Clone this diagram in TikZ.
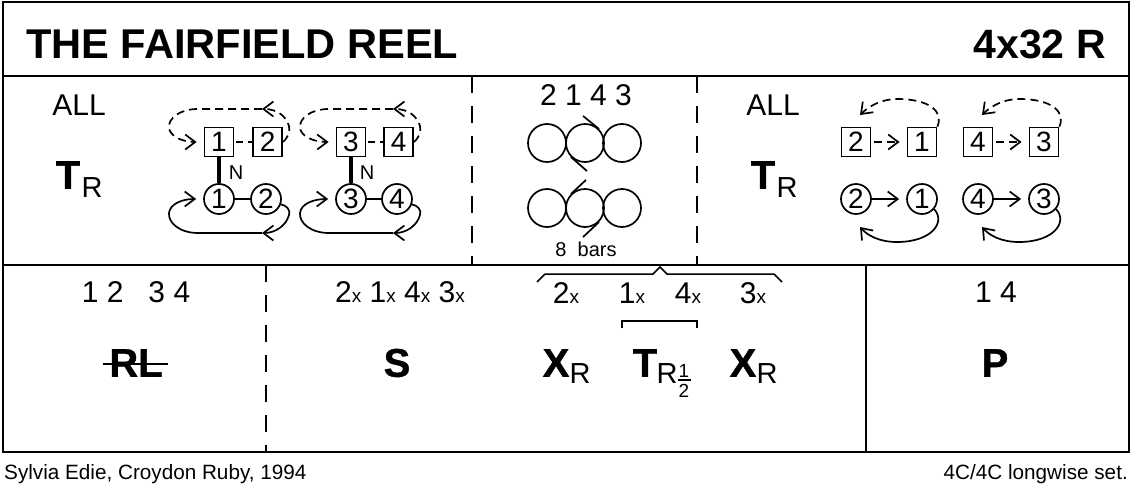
\documentclass[tikz,border=0pt]{standalone}
\usepackage{fontspec}
\usepackage{tikz}
\usetikzlibrary{arrows.meta,positioning}
\setmainfont{Liberation Sans}
\newfontfamily\heavy[FakeBold=1]{Liberation Sans Bold}
\newcommand{\fs}[1]{\fontsize{#1}{#1}\selectfont}
\newcommand{\crossnum}[1]{#1{\fs{19}x}}
\newcommand{\halfbar}{\vbox{\hbox to 13pt{\hss 1\hss}\kern2pt\hrule height 1.2pt\kern4pt\hbox to 13pt{\hss 2\hss}}}
\tikzset{
	sq/.style={draw,line width=1.7pt,minimum size=29pt,inner sep=0pt,font=\fs{28}},
	rnd/.style={draw,circle,line width=1.7pt,minimum size=30pt,inner sep=0pt,font=\fs{28}},
	ring/.style={draw,circle,line width=1.7pt,minimum size=38pt,inner sep=0pt},
	lab/.style={inner sep=0pt,font=\fs{30}},
	big/.style={inner sep=0pt,font=\fs{40}\heavy},
	sub/.style={inner sep=0pt,font=\fs{29}},
	foot/.style={inner sep=0pt,font=\fs{20.7}},
	flow/.style={line width=1.7pt,-{Straight Barb[length=10pt,width=15pt,line width=1.7pt]}},
	dflow/.style={flow,dash pattern=on 8pt off 5pt},
	divider/.style={line width=2pt,dash pattern=on 17pt off 13pt},
	rule/.style={line width=2pt},
	tick/.style={line width=1.7pt},
}
\begin{document}
\begin{tikzpicture}[x=1pt,y=-1pt]
	\useasboundingbox (0,0) rectangle (1133,490);
	\fill[white] (0,0) rectangle (1133,490);
	\coordinate (f1) at (3,2);
	\coordinate (f2) at (1129,452);
	\draw[rule] (f1) rectangle (f2);
	\draw[rule] (3,76) -- (1129,76);
	\draw[rule] (3,265) -- (1129,265);
	\draw[divider] (472,76) -- (472,265);
	\draw[divider] (697,76) -- (697,265);
	\draw[divider] (266,265) -- (266,452);
	\draw[rule] (866,265) -- (866,452);

	\node[inner sep=0pt,anchor=west,font=\fs{41.6}\bfseries] (title) at (26,44) {THE FAIRFIELD REEL};
	\node[inner sep=0pt,anchor=east,font=\fs{41}\bfseries] (form) at (1106,44) {4x32 R};
	\node[foot,anchor=west] (deviser) at (4,474) {Sylvia Edie, Croydon Ruby, 1994};
	\node[foot,anchor=east] (set) at (1128,474) {4C/4C longwise set.};

	\node[lab] (all1) at (79,105) {ALL};
	\node[big] (t1) at (68,175) {T};
	\node[sub] (r1) at (92,188) {R};

	\node[sq] (a1) at (219,142) {1};
	\node[sq,right=18pt of a1] (a2) {2};
	\node[sq] (a3) at (351,142) {3};
	\node[sq,right=17pt of a3] (a4) {4};
	\node[rnd] (b1) at (219,199) {1};
	\node[rnd] (b2) at (266,199) {2};
	\node[rnd] (b3) at (351,199) {3};
	\node[rnd] (b4) at (397,199) {4};
	\node[inner sep=0pt,font=\fs{20}] (n1) at (236,173) {N};
	\node[inner sep=0pt,font=\fs{20}] (n2) at (367,173) {N};

	\draw[line width=1.7pt,dash pattern=on 7pt off 5pt,shorten <=2pt] (a1) -- (a2);
	\draw[line width=1.7pt,dash pattern=on 7pt off 5pt,shorten <=2pt] (a3) -- (a4);
	\draw[line width=3.5pt] (a1) -- (b1);
	\draw[line width=3.5pt] (a3) -- (b3);
	\draw[line width=1.7pt] (b1) -- (b2);
	\draw[line width=1.7pt] (b3) -- (b4);

	\coordinate (c1) at (262,109);
	\coordinate (c2) at (393,109);
	\coordinate (d1) at (262,233);
	\coordinate (d2) at (393,233);
	\draw[dflow] (a2.east) .. controls (286,140) and (291,132) .. (289,126) .. controls (286,116) and (277,109) .. (c1);
	\draw[dflow,shorten >=7pt] (c1) -- (198,109) .. controls (180,109) and (168,118) .. (169,128) .. controls (170,136) and (182,142) .. (a1.west);
	\draw[dflow] (a4.east) .. controls (417,140) and (422,132) .. (420,126) .. controls (417,116) and (408,109) .. (c2);
	\draw[dflow,shorten >=7pt] (c2) -- (329,109) .. controls (311,109) and (299,118) .. (300,128) .. controls (301,136) and (313,142) .. (a3.west);
	\draw[flow] (b2.-20) .. controls (286,205) and (291,210) .. (289,215) .. controls (286,226) and (275,233) .. (d1);
	\draw[flow,shorten >=7pt] (d1) -- (198,233) .. controls (180,233) and (168,223) .. (169,213) .. controls (170,204) and (182,199) .. (b1.west);
	\draw[flow] (b4.-20) .. controls (417,205) and (422,210) .. (420,215) .. controls (417,226) and (406,233) .. (d2);
	\draw[flow,shorten >=7pt] (d2) -- (329,233) .. controls (311,233) and (299,223) .. (300,213) .. controls (301,204) and (313,199) .. (b3.west);

	\node[lab] (order) at (586,95) {2 1 4 3};
	\node[ring] (e1) at (547,143) {};
	\node[ring] (e2) at (585,143) {};
	\node[ring] (e3) at (622,143) {};
	\node[ring] (g1) at (547,208) {};
	\node[ring] (g2) at (585,208) {};
	\node[ring] (g3) at (622,208) {};
	\draw[tick] (e2.45) -- ++(-16,-13);
	\draw[tick] (e2.225) -- ++(16,14);
	\draw[tick] (g2.135) -- ++(15,-14);
	\draw[tick] (g2.-45) -- ++(-16,15);
	\node[inner sep=0pt,font=\fs{20}] (bars) at (586,249) {8\ \ bars};

	\node[lab] (all2) at (773,105) {ALL};
	\node[big] (t2) at (763,175) {T};
	\node[sub] (r2) at (787,188) {R};

	\node[sq] (h2) at (856,142) {2};
	\node[sq] (h1) at (922,142) {1};
	\node[sq] (h4) at (978,142) {4};
	\node[sq] (h3) at (1044,142) {3};
	\node[rnd] (k2) at (856,199) {2};
	\node[rnd] (k1) at (922,199) {1};
	\node[rnd] (k4) at (978,199) {4};
	\node[rnd] (k3) at (1044,199) {3};
	\draw[dflow,shorten <=3pt,shorten >=7pt] (h2) -- (h1);
	\draw[dflow,shorten <=3pt,shorten >=7pt] (h4) -- (h3);
	\draw[flow,shorten >=7pt] (k2) -- (k1);
	\draw[flow,shorten >=7pt] (k4) -- (k3);
	\coordinate (m1) at (860,115);
	\coordinate (m2) at (982,115);
	\coordinate (p1) at (860,227);
	\coordinate (p2) at (982,227);
	\draw[dflow] (h1.north east) .. controls (944,112) and (930,99) .. (897,99) .. controls (882,99) and (869,106) .. (m1);
	\draw[dflow] (h3.north east) .. controls (1066,112) and (1052,99) .. (1019,99) .. controls (1004,99) and (991,106) .. (m2);
	\draw[flow] (k1.-40) .. controls (946,222) and (932,242) .. (897,242) .. controls (880,242) and (868,236) .. (p1);
	\draw[flow] (k3.-40) .. controls (1068,222) and (1054,242) .. (1019,242) .. controls (1002,242) and (990,236) .. (p2);

	\node[lab] (s1) at (136,292) {1 2\ \ \ 3 4};
	\node[big] (rl) at (136,363) {RL};
	\coordinate (q1) at (103,364);
	\coordinate (q2) at (168,364);
	\draw[line width=1.8pt] (q1) -- (q2);

	\node[lab] (s2) at (400,292) {\crossnum{2} \crossnum{1} \crossnum{4} \crossnum{3}};
	\node[big] (s) at (397,363) {S};

	\coordinate (u1) at (537,282);
	\coordinate (u2) at (782,282);
	\draw[line width=1.5pt] (u1) -- (545,274) -- (653,274) -- (660,267) -- (667,274) -- (774,274) -- (u2);
	\node[lab] (x2) at (566,293) {\crossnum{2}};
	\node[lab] (x1) at (632,293) {\crossnum{1}};
	\node[lab] (x4) at (688,293) {\crossnum{4}};
	\node[lab] (x3) at (753,293) {\crossnum{3}};
	\coordinate (v1) at (622,328);
	\coordinate (v2) at (697,328);
	\draw[line width=1.5pt] (v1) -- (622,321) -- (697,321) -- (v2);

	\node[big] (w1) at (556,363) {X};
	\node[sub] (w2) at (580,374) {R};
	\node[big] (w3) at (645,363) {T};
	\node[sub] (w4) at (667,374) {R};
	\node[inner sep=0pt,font=\fs{19}] (w5) at (684,381) {\halfbar};
	\node[big] (w7) at (743,363) {X};
	\node[sub] (w8) at (767,374) {R};

	\node[lab] (s3) at (996,292) {1 4};
	\node[big] (p) at (995,363) {P};
\end{tikzpicture}
\end{document}
